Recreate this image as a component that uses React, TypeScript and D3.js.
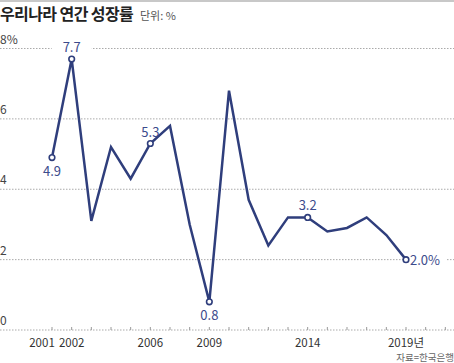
import * as d3 from "d3"
import React from "react"

const years = [2001, 2002, 2003, 2004, 2005, 2006, 2007, 2008, 2009, 2010, 2011, 2012, 2013, 2014, 2015, 2016, 2017, 2018, 2019]
const growth = [4.9, 7.7, 3.1, 5.2, 4.3, 5.3, 5.8, 3.0, 0.8, 6.8, 3.7, 2.4, 3.2, 3.2, 2.8, 2.9, 3.2, 2.7, 2.0]
const yTicks = [0, 2, 4, 6, 8]
const xLabels = [2001, 2002, 2006, 2009, 2014, 2019]
const tickYears = d3.range(2001, 2022)
// which points get a marker + value label, and where the label sits
const callouts = [
  { year: 2001, text: "4.9", pos: "below" },
  { year: 2002, text: "7.7", pos: "above" },
  { year: 2006, text: "5.3", pos: "above" },
  { year: 2009, text: "0.8", pos: "below" },
  { year: 2014, text: "3.2", pos: "above" },
  { year: 2019, text: "2.0%", pos: "right" },
]

const W = 454
const H = 363
const navy = "#2f3e7c"
const labelColor = "#3c4b8c"
const font = "'Noto Sans CJK KR', 'Noto Sans', sans-serif"

export default function App() {
  const x = d3.scaleLinear().domain([2001, 2019]).range([52, 406])
  const y = d3.scaleLinear().domain([0, 8]).range([330, 48.5])
  const data = years.map((yr, i) => ({ yr, v: growth[i] }))
  const line = d3.line<{ yr: number; v: number }>().x(d => x(d.yr)).y(d => y(d.v))

  const placed = callouts.map(c => {
    const v = growth[years.indexOf(c.year)]
    const cx = x(c.year)
    const cy = y(v)
    let tx = cx
    let ty = cy
    let anchor = "middle"
    if (c.pos === "above") ty = cy - 7
    if (c.pos === "below") ty = cy + 18
    if (c.pos === "right") { tx = cx + 4; ty = cy + 5; anchor = "start" }
    return { ...c, cx, cy, tx, ty, anchor }
  })

  return (
    <svg width={W} height={H} style={{ position: "absolute", left: 0, top: 0, background: "#fff" }} fontFamily={font}>
      <rect x={0} y={0} width={W} height={2} fill="#c8c8c8" />
      <text x={0} y={20} fontSize={16} fontWeight="bold" fill="#222" letterSpacing={-0.6}>우리나라 연간 성장률</text>
      <text x={140} y={20} fontSize={11} fill="#555">단위: %</text>

      {yTicks.map(t => (
        <g key={t}>
          <line x1={0} x2={W} y1={y(t)} y2={y(t)} stroke="#aaa" strokeWidth={1} strokeDasharray="1.5,1.5" />
          <text x={0} y={y(t) - 5} fontSize={12} fill="#444">{t === 8 ? "8%" : t}</text>
        </g>
      ))}

      {tickYears.map(t => (
        <line key={t} x1={x(t)} x2={x(t)} y1={y(0) - 3} y2={y(0)} stroke="#999" strokeWidth={1} />
      ))}

      {xLabels.map(t => (
        <text key={t} x={t === 2001 ? x(t) - 10 : x(t)} y={347} fontSize={11.5} fill="#333" textAnchor="middle">
          {t === 2019 ? "2019년" : t}
        </text>
      ))}

      {/* white knock-outs so gridlines break behind labels */}
      {placed.filter(c => c.pos !== "below").map(c => (
        <rect
          key={"bg" + c.year}
          x={c.anchor === "start" ? c.tx - 1 : c.tx - 20}
          y={c.ty - 13}
          width={c.pos === "right" ? 37 : 40}
          height={15}
          fill="#fff"
        />
      ))}

      <path d={line(data) || ""} fill="none" stroke={navy} strokeWidth={2.5} strokeLinejoin="miter" />

      {placed.map(c => (
        <g key={c.year}>
          <circle cx={c.cx} cy={c.cy} r={2.8} fill="#fff" stroke={navy} strokeWidth={1.6} />
          <text x={c.tx} y={c.ty} fontSize={13} fill={labelColor} textAnchor={c.anchor}>{c.text}</text>
        </g>
      ))}

      <text x={W} y={361} fontSize={9.5} fill="#666" textAnchor="end">자료=한국은행</text>
    </svg>
  )
}
